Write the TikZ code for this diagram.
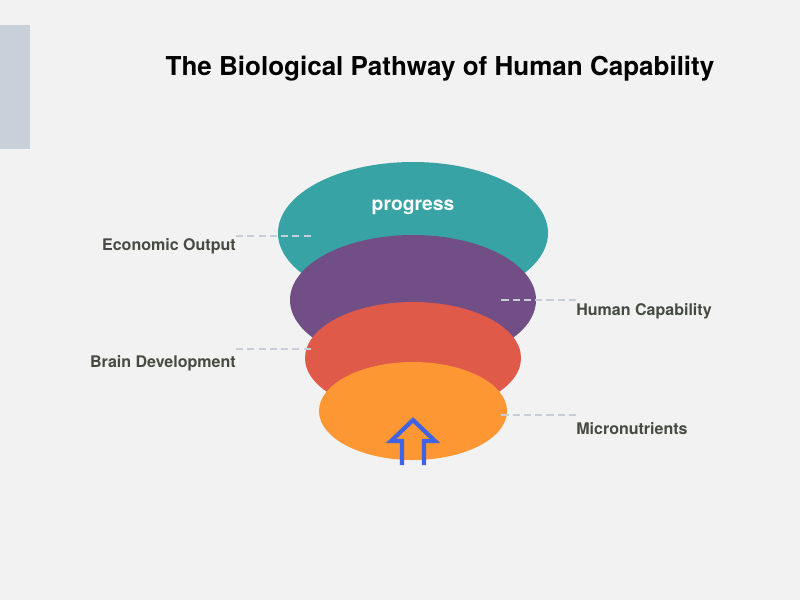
\documentclass[tikz,border=0pt]{standalone}
\usepackage{fontspec}
\setmainfont{TeX Gyre Heros}
\usetikzlibrary{shapes.geometric, positioning}
\definecolor{bgc}{HTML}{F1F2F1}
\definecolor{tabc}{HTML}{C8D0DA}
\definecolor{tealc}{HTML}{38A3A5}
\definecolor{purplec}{HTML}{714F86}
\definecolor{redc}{HTML}{E05A4A}
\definecolor{orangec}{HTML}{FD9734}
\definecolor{dashc}{HTML}{C9CDD9}
\definecolor{labelc}{HTML}{464B42}
\definecolor{arrowc}{HTML}{3F63E3}
\tikzset{
    stage/.style={
        ellipse,
        inner sep=0pt,
    },
    tag/.style={
        font=\fontsize{11.4}{13}\selectfont\bfseries,
        text=labelc,
        inner sep=0pt,
    },
    leader/.style={
        dashc,
        line width=1.3pt,
        dash pattern=on 5pt off 3pt,
    }
}

\begin{document}
\begin{tikzpicture}[x=0.025cm, y=-0.025cm]
   \fill[bgc] (0,0) rectangle (800,600);
   \useasboundingbox (0,0) rectangle (800,600);
   \fill[tabc] (0,25) rectangle (30,149);
   \node[font=\fontsize{18.5}{22}\selectfont\bfseries] (title) at (440,69) {The Biological Pathway of Human Capability};
   % funnel layers, back to front
   \node[stage, fill=tealc, minimum width=270*0.025cm, minimum height=142*0.025cm] (output) at (413,233) {};
   \node[stage, fill=purplec, minimum width=246*0.025cm, minimum height=130*0.025cm] (capability) at (413,300) {};
   \node[stage, fill=redc, minimum width=216*0.025cm, minimum height=112*0.025cm] (brain) at (413,358) {};
   \node[stage, fill=orangec, minimum width=188*0.025cm, minimum height=98*0.025cm] (micro) at (413,411) {};
   \node[text=white, font=\fontsize{13.7}{16}\selectfont\bfseries] (prog) at (413,207) {progress};
   % upward arrow
   \draw[arrowc, line width=3pt, line join=miter] (402,465) -- (402,441) -- (391,441) -- (413,420) -- (435,441) -- (424,441) -- (424,465);
   % labels
   \node[tag, anchor=east] (lout) at (236,246) {Economic Output};
   \node[tag, anchor=west] (lcap) at (576,311) {Human Capability};
   \node[tag, anchor=east] (lbrain) at (236,363) {Brain Development};
   \node[tag, anchor=west] (lmicro) at (576,429) {Micronutrients};
   \coordinate (pout) at (313,236);
   \coordinate (pcap) at (498,300);
   \coordinate (pbrain) at (313,349);
   \coordinate (pmicro) at (498,415);
   \draw[leader] (lout.east |- pout) -- (pout);
   \draw[leader] (lcap.west |- pcap) -- (pcap);
   \draw[leader] (lbrain.east |- pbrain) -- (pbrain);
   \draw[leader] (lmicro.west |- pmicro) -- (pmicro);
\end{tikzpicture}
\end{document}
